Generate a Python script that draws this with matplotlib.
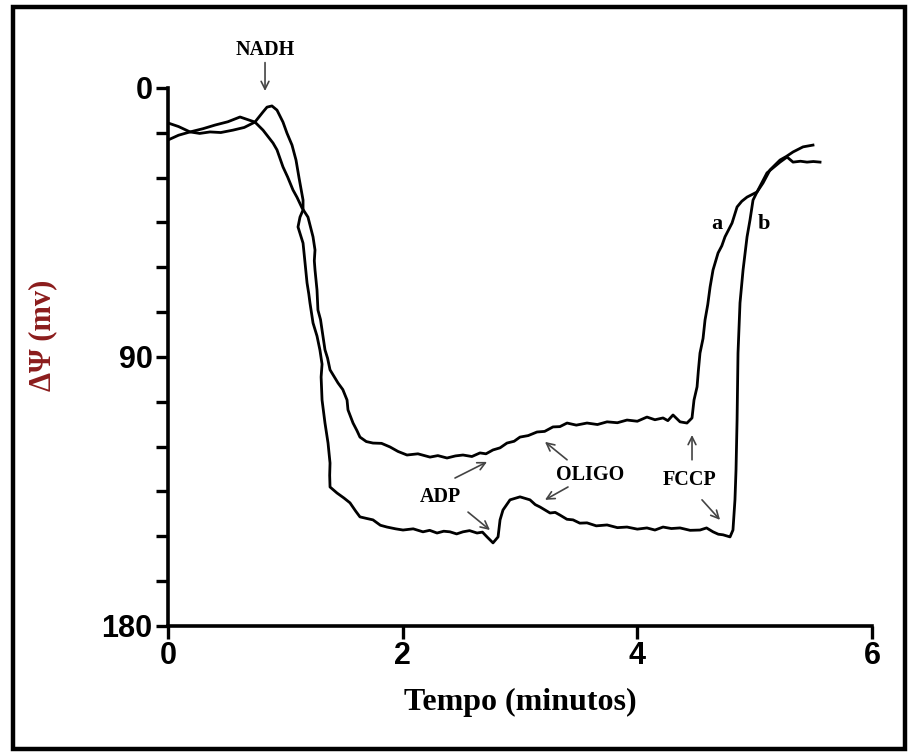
import matplotlib
matplotlib.use("Agg")
import matplotlib.pyplot as plt
from matplotlib.patches import Rectangle

# ---- data (time in minutes, membrane potential in mV) ----
curve_a_t = [0.000, 0.090, 0.188, 0.270, 0.358, 0.450, 0.554, 0.650, 0.741, 0.810, 0.895, 0.929,
             0.980, 1.020, 1.065, 1.100, 1.142, 1.193, 1.236, 1.253, 1.247, 1.253, 1.270, 1.278,
             1.300, 1.313, 1.338, 1.360, 1.381, 1.449, 1.490, 1.526, 1.534, 1.577, 1.610, 1.636,
             1.690, 1.747, 1.820, 1.892, 1.960, 2.037, 2.130, 2.233, 2.300, 2.378, 2.450, 2.514,
             2.590, 2.659, 2.710, 2.770, 2.830, 2.889, 2.950, 3.000, 3.070, 3.145, 3.210, 3.281,
             3.340, 3.401, 3.480, 3.571, 3.660, 3.742, 3.830, 3.912, 4.000, 4.082, 4.150, 4.219,
             4.260, 4.304, 4.364, 4.423, 4.466, 4.483, 4.509, 4.520, 4.534, 4.560, 4.577, 4.600,
             4.620, 4.645, 4.688, 4.720, 4.747, 4.807, 4.850, 4.890, 4.935, 5.020, 5.071,
             5.131, 5.216, 5.270, 5.327, 5.412, 5.497]
curve_a_v = [17.4, 15.8, 14.7, 15.2, 14.7, 14.9, 14.1, 13.2, 11.4, 14.1, 18.4, 20.7,
             26.4, 29.8, 34.1, 36.6, 40.1, 43.2, 49.8, 54.2, 57.8, 60.9, 67.6, 74.3,
             77.5, 81.0, 87.6, 90.4, 94.3, 98.7, 100.9, 104.4, 107.7, 112.1, 114.6, 116.8,
             118.3, 118.8, 118.9, 120.1, 121.6, 122.8, 122.4, 123.5, 123.0, 123.8, 123.1, 122.8,
             123.3, 122.1, 122.4, 121.1, 120.4, 118.8, 118.2, 116.8, 116.3, 115.1, 114.9, 113.4,
             113.3, 112.1, 112.8, 112.1, 112.6, 111.7, 112.0, 111.1, 111.5, 110.1, 111.0, 110.4,
             111.3, 109.4, 111.7, 112.1, 110.4, 104.4, 100.0, 94.6, 88.7, 83.8, 77.6, 72.5,
             66.6, 60.9, 55.2, 52.8, 49.8, 45.2, 39.8, 37.9, 36.5, 34.8, 31.8,
             27.4, 24.1, 22.9, 21.4, 19.7, 19.1]

curve_b_t = [0.000, 0.090, 0.188, 0.300, 0.401, 0.510, 0.614, 0.741, 0.810, 0.844, 0.886, 0.929,
             0.980, 1.014, 1.057, 1.091, 1.117, 1.151, 1.151, 1.125, 1.108, 1.151, 1.168, 1.185,
             1.200, 1.210, 1.236, 1.270, 1.295, 1.313, 1.305, 1.313, 1.338, 1.364, 1.381, 1.378,
             1.381, 1.440, 1.500, 1.551, 1.600, 1.636, 1.690, 1.747, 1.810, 1.866, 1.940, 2.003,
             2.090, 2.173, 2.230, 2.293, 2.350, 2.403, 2.460, 2.514, 2.570, 2.634, 2.680, 2.719,
             2.770, 2.813, 2.830, 2.855, 2.915, 3.000, 3.085, 3.130, 3.171, 3.256, 3.300, 3.341,
             3.400, 3.452, 3.510, 3.571, 3.650, 3.742, 3.830, 3.912, 4.000, 4.082, 4.150, 4.219,
             4.290, 4.364, 4.450, 4.534, 4.590, 4.645, 4.690, 4.730, 4.790, 4.815, 4.832, 4.841,
             4.850, 4.858, 4.875, 4.901, 4.935, 4.960, 4.986, 5.020, 5.105, 5.216, 5.276, 5.327,
             5.390, 5.446, 5.500, 5.557]
curve_b_v = [11.7, 12.9, 14.7, 13.6, 12.4, 11.3, 9.7, 11.4, 8.0, 6.4, 6.0, 7.4,
             11.4, 15.1, 19.1, 24.1, 30.1, 37.5, 40.8, 43.2, 46.5, 51.9, 58.5, 65.2,
             68.9, 71.9, 78.6, 83.0, 87.7, 92.4, 96.7, 104.4, 112.1, 118.8, 125.5, 129.6,
             133.5, 135.5, 137.2, 138.8, 141.6, 143.5, 144.0, 144.5, 146.3, 146.9, 147.5, 147.9,
             147.5, 148.5, 148.0, 148.9, 148.3, 148.5, 149.2, 148.5, 148.1, 148.9, 148.6, 150.2,
             152.2, 150.2, 144.5, 141.2, 137.8, 136.8, 137.8, 139.4, 140.2, 142.2, 142.0, 142.9,
             144.3, 144.5, 145.6, 145.5, 146.5, 146.2, 147.1, 146.9, 147.6, 147.2, 147.9, 146.9,
             147.4, 147.2, 148.0, 147.9, 147.2, 148.5, 149.3, 149.5, 150.2, 147.9, 137.8, 127.8,
             111.1, 88.7, 71.9, 60.9, 49.8, 44.2, 37.5, 34.8, 28.4, 24.8, 23.1, 24.8,
             24.5, 24.8, 24.6, 24.8]

x_ticks = [0, 2, 4, 6]
y_ticks = [0, 90, 180]

# annotations: (label, text_x, text_y, [(arrow_from_x, from_y, to_x, to_y), ...])
annotations = [
    ("NADH", 0.827, -12.7, [(0.827, -8.5, 0.827, 1.0)]),
    ("ADP", 2.318, 136.8, [(2.446, 130.5, 2.719, 125.1), (2.557, 141.9, 2.744, 147.9)]),
    ("OLIGO", 3.597, 129.5, [(3.401, 124.4, 3.213, 118.4), (3.409, 133.5, 3.213, 137.8)]),
    ("FCCP", 4.449, 131.1, [(4.466, 124.4, 4.466, 116.1), (4.551, 137.8, 4.705, 144.5)]),
]
curve_labels = [("a", 4.679, 45.5), ("b", 5.080, 45.5)]

# ---- figure ----
fig = plt.figure(figsize=(9.11, 7.56), dpi=100)
fig.patches.append(Rectangle((0.014, 0.009), 0.979, 0.982, transform=fig.transFigure,
                             fill=False, edgecolor="black", linewidth=3.2, zorder=10))

ax = fig.add_axes([0.1844, 0.1720, 0.7728, 0.7116])
ax.plot(curve_a_t, curve_a_v, color="black", lw=2.0, solid_joinstyle="round")
ax.plot(curve_b_t, curve_b_v, color="black", lw=2.0, solid_joinstyle="round")

ax.set_xlim(0, 6)
ax.set_ylim(180, 0)
for s in ("top", "right"):
    ax.spines[s].set_visible(False)
for s in ("left", "bottom"):
    ax.spines[s].set_linewidth(2.6)

tick_font = dict(family=["Liberation Sans", "DejaVu Sans"], weight="bold", size=22)
ax.set_xticks(x_ticks)
ax.set_xticklabels([str(v) for v in x_ticks], fontdict=tick_font)
ax.set_yticks(y_ticks)
ax.set_yticklabels([str(v) for v in y_ticks], fontdict=tick_font)
ax.set_yticks(list(range(15, 180, 15)), minor=True)
ax.tick_params(axis="both", which="major", length=9, width=2.4, pad=2)
ax.tick_params(axis="y", which="minor", length=9, width=2.4)

serif = ["Liberation Serif", "DejaVu Serif"]
ax.set_xlabel("Tempo (minutos)", family=serif, weight="bold", size=23, labelpad=12)
ax.set_ylabel("ΔΨ (mv)", family=serif, weight="bold", size=22, color="#8b1c1c")
ax.yaxis.set_label_coords(-0.158, 0.54)

for label, tx, ty, arrows in annotations:
    ax.text(tx, ty, label, family=serif, weight="bold", size=14.5, ha="center", va="center",
            clip_on=False)
    for fx, fy, ex, ey in arrows:
        ax.annotate("", xy=(ex, ey), xytext=(fx, fy), annotation_clip=False,
                    arrowprops=dict(arrowstyle="->", color="#444444", lw=1.2,
                                    mutation_scale=14, shrinkA=0, shrinkB=0))

for label, tx, ty in curve_labels:
    ax.text(tx, ty, label, family=serif, weight="bold", size=16, ha="center", va="center")

fig.savefig("out.png", dpi=100)
